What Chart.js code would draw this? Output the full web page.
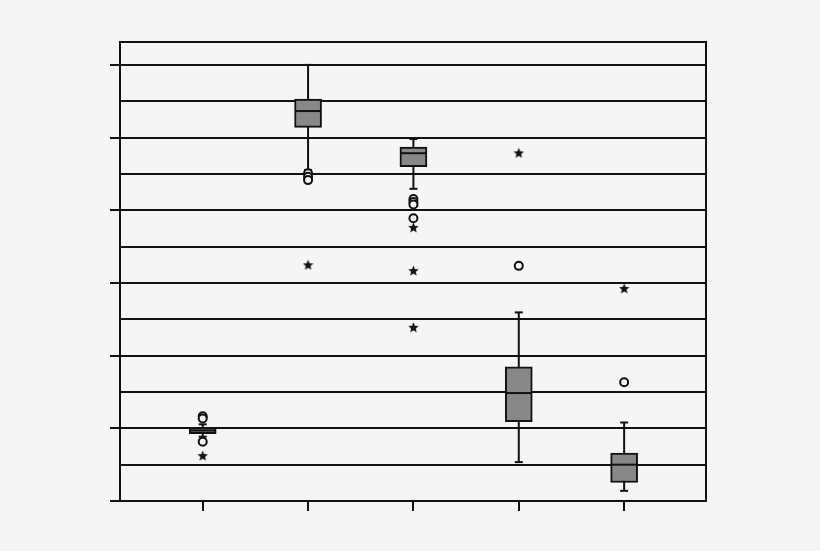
<!DOCTYPE html>
<html>
<head>
<meta charset="utf-8">
<script src="https://cdn.jsdelivr.net/npm/chart.js@4.4.0/dist/chart.umd.min.js"></script>
<style>
  html, body { margin: 0; padding: 0; background: #f5f5f5; }
  canvas { display: block; }
</style>
</head>
<body>
<canvas id="boxChart" width="820" height="551"></canvas>
<script>
// box plot values, one entry per group
const groups = [1, 2, 3, 4, 5];
const whiskerLow  = [1.77, 9.11, 8.59, 1.07, 0.28];
const q1          = [1.85, 10.28, 9.20, 2.18, 0.51];
const median      = [1.94, 10.73, 9.57, 2.97, 1.00];
const q3          = [2.02, 11.06, 9.74, 3.69, 1.32];
const whiskerHigh = [2.11, 12.00, 9.96, 5.19, 2.16];

// outliers (circles) and extremes (stars) per group
const circleOutliers = [
  [2.33, 2.27, 1.63],
  [9.02, 8.92, 8.83],
  [8.31, 8.23, 8.16, 7.78],
  [6.47],
  [3.27]
];
const starOutliers = [
  [1.25],
  [6.50],
  [7.53, 6.34, 4.78],
  [9.58],
  [5.85]
];

const yTicks = [0, 2, 4, 6, 8, 10, 12];

const INK = '#111';

// small filled five point star used as point style
function makeStar(size) {
  const c = document.createElement('canvas');
  c.width = size; c.height = size;
  const g = c.getContext('2d');
  const cx = size / 2, cy = size / 2 + 0.5, R = size / 2, r = R * 0.45;
  g.beginPath();
  for (let i = 0; i < 10; i++) {
    const rad = i % 2 === 0 ? R : r;
    const a = -Math.PI / 2 + i * Math.PI / 5;
    const px = cx + rad * Math.cos(a), py = cy + rad * Math.sin(a);
    if (i === 0) g.moveTo(px, py); else g.lineTo(px, py);
  }
  g.closePath();
  g.fillStyle = INK;
  g.fill();
  return c;
}
const starImg = makeStar(11);

const flatten = (lists) => lists.flatMap((vals, i) => vals.map(v => ({ x: groups[i], y: v })));

const whiskerSets = groups.map((g, i) => ({
  type: 'line',
  data: [{ x: g, y: whiskerLow[i] }, { x: g, y: whiskerHigh[i] }],
  borderColor: INK,
  borderWidth: 2,
  pointRadius: 0,
  order: 5
}));

const frame = {
  id: 'frame',
  afterDraw(chart) {
    const { ctx, chartArea: a } = chart;
    ctx.save();
    ctx.strokeStyle = INK;
    ctx.lineWidth = 2;
    ctx.strokeRect(a.left, a.top, a.right - a.left, a.bottom - a.top);
    ctx.restore();
  }
};

new Chart(document.getElementById('boxChart'), {
  type: 'bar',
  data: {
    datasets: [
      ...whiskerSets,
      {
        type: 'bar',
        data: groups.map((g, i) => ({ x: g, y: [q1[i], q3[i]] })),
        backgroundColor: '#888',
        borderColor: INK,
        borderWidth: 2,
        borderSkipped: false,
        barThickness: 27,
        order: 4
      },
      {
        type: 'scatter',
        data: groups.map((g, i) => ({ x: g, y: median[i] })),
        pointStyle: 'line',
        pointRadius: 13,
        borderColor: INK,
        borderWidth: 2,
        order: 3
      },
      {
        type: 'scatter',
        data: groups.flatMap((g, i) => [{ x: g, y: whiskerLow[i] }, { x: g, y: whiskerHigh[i] }]),
        pointStyle: 'line',
        pointRadius: 4,
        borderColor: INK,
        borderWidth: 2,
        order: 3
      },
      {
        type: 'scatter',
        data: flatten(circleOutliers),
        pointStyle: 'circle',
        pointRadius: 4,
        backgroundColor: '#f5f5f5',
        borderColor: INK,
        borderWidth: 2,
        order: 2
      },
      {
        type: 'scatter',
        data: flatten(starOutliers),
        pointStyle: starImg,
        order: 1
      }
    ]
  },
  options: {
    responsive: false,
    animation: false,
    layout: { padding: { left: 110, right: 114, top: 42, bottom: 40 } },
    plugins: { legend: { display: false }, tooltip: { enabled: false } },
    scales: {
      x: {
        type: 'linear',
        min: 0.215,
        max: 5.777,
        offset: false,
        afterBuildTicks: (axis) => { axis.ticks = groups.map(v => ({ value: v })); },
        ticks: { display: false },
        grid: {
          offset: false,
          drawOnChartArea: false,
          tickLength: 10,
          color: INK,
          lineWidth: 2
        },
        border: { display: true, color: INK, width: 2 }
      },
      y: {
        min: 0,
        max: 12.63,
        ticks: { display: false, stepSize: 1 },
        grid: {
          color: INK,
          lineWidth: 2,
          tickLength: 10,
          tickColor: (c) => (c.tick && yTicks.includes(c.tick.value)) ? INK : 'rgba(0,0,0,0)'
        },
        border: { display: true, color: INK, width: 2 }
      }
    }
  },
  plugins: [frame]
});
</script>
</body>
</html>
